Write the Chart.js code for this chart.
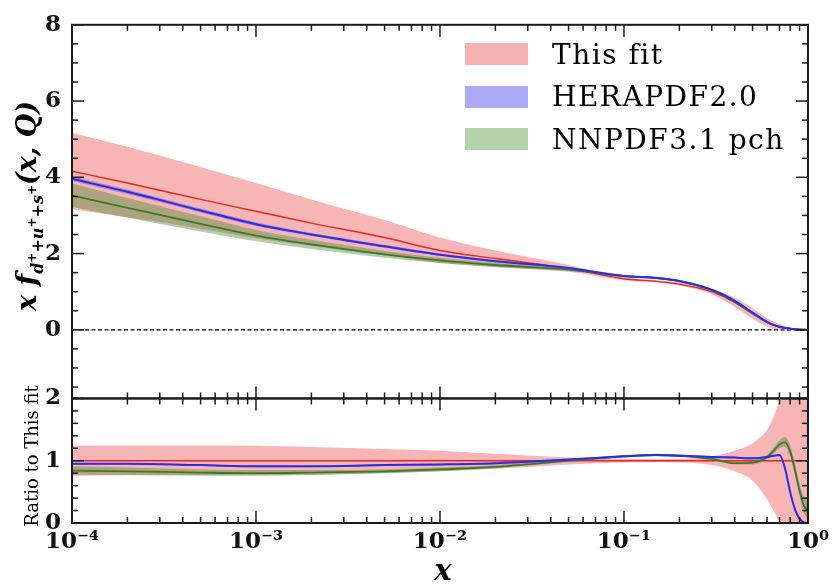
<!DOCTYPE html>
<html>
<head>
<meta charset="utf-8">
<script src="https://cdn.jsdelivr.net/npm/chart.js@4.4.1/dist/chart.umd.min.js"></script>
<style>
  body { margin: 0; background: #fff; }
  #wrap { position: relative; width: 834px; height: 586px; }
  canvas { position: absolute; left: 0; top: 0; }
  .rot { position: absolute; white-space: nowrap; transform: translate(-50%, -50%) rotate(-90deg); color: #000; }
  #ytitle { left: 29px; top: 206px; font: bold italic 27px "DejaVu Serif", serif; }
  #ytitle sub { font-size: 16px; vertical-align: -7px; }
  #ytitle sup { font-size: 12px; vertical-align: 7px; }
  #rtitle { left: 31px; top: 456px; font: 18px "DejaVu Serif", serif; }
  #xtitle { position: absolute; left: 443px; top: 570px; transform: translate(-50%, -50%); font: bold italic 29px "DejaVu Serif", serif; }
  #legend { position: absolute; left: 465px; top: 33px; font: 28px "DejaVu Serif", serif; letter-spacing: 1.5px; }
  .row { display: flex; align-items: center; height: 42.5px; }
  .patch { width: 63px; height: 22px; margin-right: 24px; }
</style>
</head>
<body>
<div id="wrap">
  <canvas id="myChart" width="834" height="586"></canvas>
  <div id="ytitle" class="rot">x f<sub>d<sup>+</sup>+u<sup>+</sup>+s<sup>+</sup></sub>(x, Q)</div>
  <div id="rtitle" class="rot">Ratio to This fit</div>
  <div id="xtitle">x</div>
  <div id="legend"></div>
</div>
<script>
// x grid the curves are read at
const xs = [1e-4, 2e-4, 5e-4, 1e-3, 2e-3, 5e-3, 1e-2, 2e-2, 5e-2, 0.1, 0.15, 0.2, 0.3, 0.4, 0.5, 0.6, 0.65, 0.7, 0.75, 0.8, 0.85, 0.9, 0.95, 1.0];

const seriesNames = ['This fit', 'HERAPDF2.0', 'NNPDF3.1 pch'];

// top panel: x f(x,Q)
const fitMid  = [4.16, 3.85, 3.42, 3.11, 2.80, 2.42, 2.08, 1.87, 1.61, 1.34, 1.27, 1.20, 1.00, 0.72, 0.43, 0.20, 0.13, 0.08, 0.05, 0.03, 0.015, 0.006, 0.002, 0];
const fitLo   = [3.16, 2.95, 2.65, 2.40, 2.20, 1.95, 1.75, 1.64, 1.52, 1.30, 1.24, 1.16, 0.93, 0.60, 0.29, 0.08, 0.03, 0.005, 0, 0, 0, 0, 0, 0];
const fitHi   = [5.17, 4.80, 4.27, 3.85, 3.42, 2.88, 2.42, 2.08, 1.70, 1.38, 1.30, 1.24, 1.07, 0.84, 0.56, 0.30, 0.22, 0.15, 0.10, 0.06, 0.035, 0.015, 0.005, 0];
const heraMid = [3.96, 3.62, 3.13, 2.77, 2.50, 2.19, 1.97, 1.80, 1.62, 1.41, 1.36, 1.28, 1.05, 0.76, 0.45, 0.21, 0.13, 0.08, 0.05, 0.03, 0.015, 0.006, 0.002, 0];
const heraLo  = [3.90, 3.56, 3.08, 2.72, 2.46, 2.15, 1.94, 1.77, 1.60, 1.39, 1.34, 1.26, 1.03, 0.74, 0.44, 0.20, 0.12, 0.075, 0.045, 0.027, 0.013, 0.005, 0.001, 0];
const heraHi  = [4.02, 3.68, 3.18, 2.82, 2.54, 2.23, 2.00, 1.83, 1.64, 1.43, 1.38, 1.30, 1.07, 0.78, 0.46, 0.22, 0.14, 0.085, 0.055, 0.033, 0.017, 0.007, 0.003, 0];
const nnMid   = [3.52, 3.20, 2.78, 2.47, 2.24, 1.98, 1.82, 1.70, 1.58, 1.41, 1.36, 1.28, 1.04, 0.73, 0.43, 0.20, 0.13, 0.08, 0.05, 0.03, 0.015, 0.006, 0.002, 0];
const nnLo    = [3.22, 2.94, 2.58, 2.32, 2.12, 1.89, 1.75, 1.65, 1.54, 1.38, 1.33, 1.25, 1.01, 0.705, 0.41, 0.185, 0.12, 0.07, 0.045, 0.025, 0.012, 0.004, 0.001, 0];
const nnHi    = [3.84, 3.46, 2.98, 2.62, 2.36, 2.07, 1.89, 1.75, 1.62, 1.44, 1.39, 1.31, 1.07, 0.755, 0.45, 0.215, 0.14, 0.09, 0.055, 0.035, 0.018, 0.008, 0.003, 0];

// bottom panel: ratio to this fit
const rFitMid  = [1, 1, 1, 1, 1, 1, 1, 1, 1, 1, 1, 1, 1, 1, 1, 1, 1, 1, 1, 1, 1, 1, 1, 1];
const rFitLo   = [0.76, 0.765, 0.77, 0.77, 0.78, 0.80, 0.83, 0.87, 0.94, 0.97, 0.975, 0.97, 0.93, 0.83, 0.68, 0.38, 0.20, 0.03, 0, 0, 0, 0, 0, 0];
const rFitHi   = [1.24, 1.245, 1.245, 1.24, 1.22, 1.19, 1.16, 1.11, 1.05, 1.03, 1.025, 1.03, 1.07, 1.16, 1.28, 1.50, 1.70, 1.95, 2, 2, 2, 2, 2, 2];
const rHeraMid = [0.95, 0.95, 0.93, 0.91, 0.91, 0.93, 0.94, 0.96, 1.02, 1.07, 1.09, 1.08, 1.06, 1.05, 1.04, 1.06, 1.08, 1.09, 0.88, 0.50, 0.22, 0.07, 0.01, 0];
const rHeraLo  = [0.935, 0.935, 0.915, 0.895, 0.895, 0.915, 0.925, 0.945, 1.005, 1.055, 1.075, 1.065, 1.045, 1.035, 1.025, 1.045, 1.065, 1.075, 0.86, 0.48, 0.20, 0.06, 0.005, 0];
const rHeraHi  = [0.965, 0.965, 0.945, 0.925, 0.925, 0.945, 0.955, 0.975, 1.035, 1.085, 1.105, 1.095, 1.075, 1.065, 1.055, 1.075, 1.095, 1.105, 0.90, 0.52, 0.24, 0.08, 0.015, 0];
const rNnMid   = [0.84, 0.83, 0.81, 0.80, 0.81, 0.83, 0.86, 0.90, 1.00, 1.07, 1.09, 1.08, 1.03, 0.96, 0.97, 1.06, 1.16, 1.26, 1.30, 1.15, 0.85, 0.52, 0.28, 0.20];
const rNnLo    = [0.78, 0.77, 0.76, 0.76, 0.77, 0.80, 0.83, 0.88, 0.98, 1.05, 1.07, 1.06, 1.01, 0.94, 0.94, 1.02, 1.11, 1.20, 1.22, 1.06, 0.76, 0.42, 0.16, 0.08];
const rNnHi    = [0.91, 0.89, 0.86, 0.85, 0.85, 0.86, 0.89, 0.93, 1.02, 1.09, 1.11, 1.10, 1.05, 0.98, 1.00, 1.10, 1.21, 1.33, 1.38, 1.24, 0.95, 0.64, 0.42, 0.36];

// axis ticks
const xTicks = [1e-4, 1e-3, 1e-2, 1e-1, 1];
const xTickLabels = ['10\u207B\u2074', '10\u207B\u00B3', '10\u207B\u00B2', '10\u207B\u00B9', '10\u2070'];
const yTicks = [0, 2, 4, 6, 8];
const ratioTicks = [0, 1, 2];

const lineColors = ['#e8261c', '#2b2bea', '#3b7a2a'];
const bandColors = ['rgba(236,70,70,0.40)', 'rgba(70,70,240,0.40)', 'rgba(70,140,50,0.42)'];
const legendColors = ['#f5b2b2', '#aaaaf5', '#b2d2aa'];

// legend
const legend = document.getElementById('legend');
seriesNames.forEach((name, i) => {
  const row = document.createElement('div');
  row.className = 'row';
  row.innerHTML = '<span class="patch" style="background:' + legendColors[i] + '"></span><span>' + name + '</span>';
  legend.appendChild(row);
});

function pts(arr) {
  return xs.map((x, i) => ({x: x, y: arr[i]}));
}

const datasets = [];
function addBand(axis, lo, hi, color, order) {
  datasets.push({data: pts(lo), yAxisID: axis, borderWidth: 0, borderColor: 'rgba(0,0,0,0)', pointRadius: 0, fill: false, order: order, cubicInterpolationMode: 'monotone'});
  const loIndex = datasets.length - 1;
  datasets.push({data: pts(hi), yAxisID: axis, borderWidth: 0, borderColor: 'rgba(0,0,0,0)', pointRadius: 0, fill: {target: loIndex}, backgroundColor: color, order: order, cubicInterpolationMode: 'monotone'});
}
function addLine(axis, arr, color, width, order) {
  datasets.push({data: pts(arr), yAxisID: axis, borderColor: color, borderWidth: width, pointRadius: 0, fill: false, order: order, cubicInterpolationMode: 'monotone'});
}

// zero line in upper panel
datasets.push({data: [{x: 1e-4, y: 0}, {x: 1, y: 0}], yAxisID: 'y', borderColor: '#000', borderWidth: 1.2, borderDash: [4, 2.5], pointRadius: 0, fill: false, order: 20});

addBand('y', fitLo, fitHi, bandColors[0], 10);
addBand('y', nnLo, nnHi, bandColors[2], 9);
addBand('y', heraLo, heraHi, bandColors[1], 8);
addLine('y', fitMid, lineColors[0], 1.4, 5);
addLine('y', nnMid, lineColors[2], 1.8, 4);
addLine('y', heraMid, lineColors[1], 2, 3);

addBand('yr', rFitLo, rFitHi, bandColors[0], 10);
addBand('yr', rNnLo, rNnHi, bandColors[2], 9);
addBand('yr', rHeraLo, rHeraHi, bandColors[1], 8);
addLine('yr', rFitMid, lineColors[0], 1.4, 5);
addLine('yr', rNnMid, lineColors[2], 1.8, 4);
addLine('yr', rHeraMid, lineColors[1], 2, 3);

// minor tick positions
const xMinor = [];
for (let d = -4; d < 0; d++) {
  for (let k = 2; k <= 9; k++) xMinor.push(k * Math.pow(10, d));
}
const yMinor = [];
for (let v = -1.5; v < 8; v += 0.5) if (v % 2 !== 0) yMinor.push(v);
const rMinor = [];
for (let v = 0.2; v < 2; v += 0.2) if (Math.abs(v - 1) > 0.01) rMinor.push(v);

const framePlugin = {
  id: 'frame',
  afterDraw(chart) {
    const ctx = chart.ctx;
    const sx = chart.scales.x;
    const L = sx.left, R = sx.right;
    const panels = [[chart.scales.y, yTicks, yMinor], [chart.scales.yr, ratioTicks, rMinor]];
    ctx.save();
    ctx.strokeStyle = '#1a1a1a';
    panels.forEach(([sy, major, minor]) => {
      const T = sy.top, B = sy.bottom;
      ctx.lineWidth = 1.5;
      const tick = (x1, y1, x2, y2) => { ctx.beginPath(); ctx.moveTo(x1, y1); ctx.lineTo(x2, y2); ctx.stroke(); };
      xTicks.forEach(v => { const p = sx.getPixelForValue(v); tick(p, B, p, B - 12); tick(p, T, p, T + 12); });
      xMinor.forEach(v => { const p = sx.getPixelForValue(v); tick(p, B, p, B - 6); tick(p, T, p, T + 6); });
      major.forEach(v => { const p = sy.getPixelForValue(v); tick(L, p, L + 12, p); tick(R, p, R - 12, p); });
      minor.forEach(v => { const p = sy.getPixelForValue(v); tick(L, p, L + 6, p); tick(R, p, R - 6, p); });
      ctx.lineWidth = 2;
      ctx.strokeRect(L, T, R - L, B - T);
    });
    ctx.restore();
  }
};

const tickFont = {family: 'DejaVu Serif', size: 23, weight: 'bold'};

new Chart(document.getElementById('myChart'), {
  type: 'line',
  data: {datasets: datasets},
  options: {
    responsive: false,
    animation: false,
    events: [],
    layout: {padding: {top: 15, right: 21, left: 0, bottom: 0}},
    plugins: {legend: {display: false}, tooltip: {enabled: false}},
    scales: {
      x: {
        type: 'logarithmic', min: 1e-4, max: 1, position: 'bottom',
        afterBuildTicks: s => { s.ticks = xTicks.map(v => ({value: v})); },
        afterFit: s => { s.height = 63; },
        ticks: {callback: (v, i) => xTickLabels[i], font: {family: 'DejaVu Serif', size: 23, weight: 'bold'}, color: '#111', padding: 5, maxRotation: 0, autoSkip: false},
        grid: {display: false, drawTicks: false},
        border: {display: false}
      },
      // ratio panel listed first: the stacked layout puts it at the bottom
      yr: {
        type: 'linear', position: 'left', stack: 'panels', stackWeight: 1, min: 0, max: 2,
        afterBuildTicks: s => { s.ticks = ratioTicks.map(v => ({value: v})); },
        afterFit: s => { s.width = 72; },
        ticks: {font: tickFont, color: '#111', padding: 11},
        grid: {display: false, drawTicks: false},
        border: {display: false}
      },
      y: {
        type: 'linear', position: 'left', stack: 'panels', stackWeight: 3, min: -1.8, max: 8,
        afterBuildTicks: s => { s.ticks = yTicks.map(v => ({value: v})); },
        afterFit: s => { s.width = 72; },
        ticks: {font: tickFont, color: '#111', padding: 11},
        grid: {display: false, drawTicks: false},
        border: {display: false}
      }
    }
  },
  plugins: [framePlugin]
});
</script>
</body>
</html>
